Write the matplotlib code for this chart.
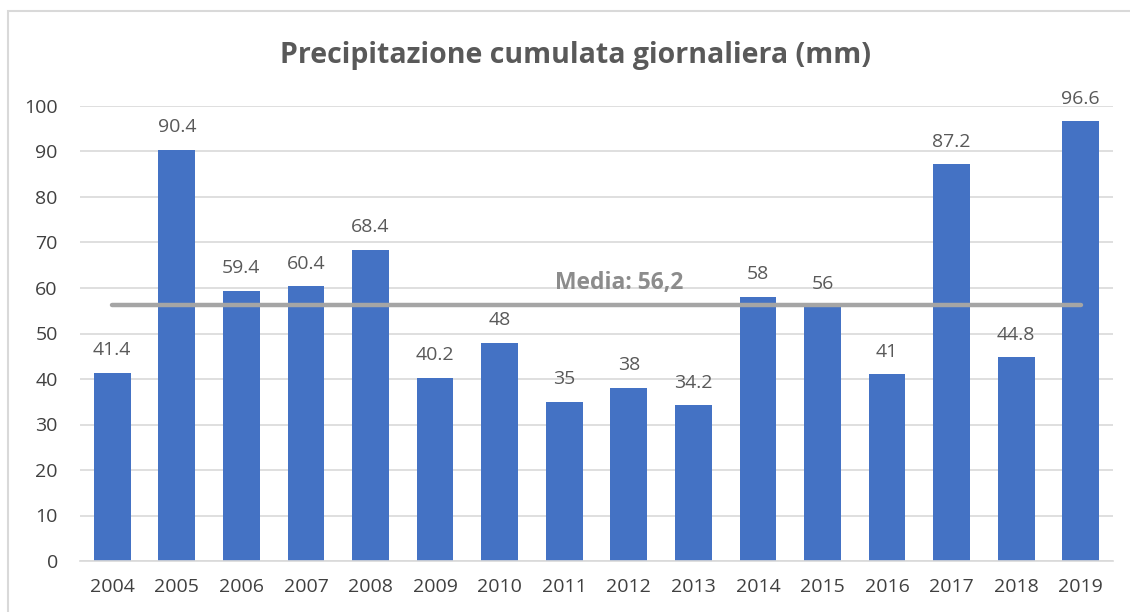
# bar chart of daily cumulative rainfall per year, with the mean drawn across
import numpy as np
import matplotlib.pyplot as plt
from matplotlib.patches import Rectangle

plt.rcParams['font.family'] = ['Open Sans', 'DejaVu Sans']

years = ['2004', '2005', '2006', '2007', '2008', '2009', '2010', '2011',
         '2012', '2013', '2014', '2015', '2016', '2017', '2018', '2019']
rain_mm = [41.4, 90.4, 59.4, 60.4, 68.4, 40.2, 48, 35,
           38, 34.2, 58, 56, 41, 87.2, 44.8, 96.6]
y_ticks = [0, 10, 20, 30, 40, 50, 60, 70, 80, 90, 100]

mean_mm = round(float(np.mean(rain_mm)), 1)

fig = plt.figure(figsize=(11.3, 6.12), dpi=100)
ax = fig.add_axes([80 / 1130, 1 - 561 / 612, (1113 - 80) / 1130, (561 - 106) / 612])

# outer chart frame (runs off the right and bottom edge)
fig.patches.append(Rectangle((8 / 1130, -0.1), 1.2, 1 - 11 / 612 + 0.1,
                             transform=fig.transFigure, fill=False,
                             edgecolor='#D9D9D9', linewidth=1.5))

x = np.arange(len(years))
bars = ax.bar(x, rain_mm, width=0.57, color='#4472C4', zorder=2)

for xi, v in zip(x, rain_mm):
    label = f'{v:g}'
    ax.text(xi, v + 3.0, label, ha='center', va='bottom', fontsize=14,
            color='#595959')

# mean line from first to last bar centre
ax.plot([x[0], x[-1]], [mean_mm, mean_mm], color='#A5A5A5', linewidth=3.2,
        solid_capstyle='round', zorder=3)
ax.text(7.85, mean_mm + 2.3, 'Media: ' + str(mean_mm).replace('.', ','),
        ha='center', va='bottom', fontsize=16.5, fontweight='bold',
        color='#8C8C8C', zorder=4)

ax.set_xlim(-0.5, len(years) - 0.5)
ax.set_ylim(0, 100)
ax.set_yticks(y_ticks)
ax.set_xticks(x)
ax.set_xticklabels(years)
ax.tick_params(axis='both', length=0, labelsize=14, labelcolor='#404040')
ax.tick_params(axis='y', pad=16)
ax.tick_params(axis='x', pad=12)
ax.grid(axis='y', color='#D9D9D9', linewidth=1.2, zorder=0)
ax.set_axisbelow(True)
for side in ['top', 'right', 'left']:
    ax.spines[side].set_visible(False)
ax.spines['bottom'].set_color('#D9D9D9')
ax.spines['bottom'].set_linewidth(1.2)

fig.text(576 / 1130, 1 - 55 / 612, 'Precipitazione cumulata giornaliera (mm)',
         ha='center', va='center', fontsize=20.5, fontweight='bold', color='#595959')

fig.savefig('out.png', dpi=100)
